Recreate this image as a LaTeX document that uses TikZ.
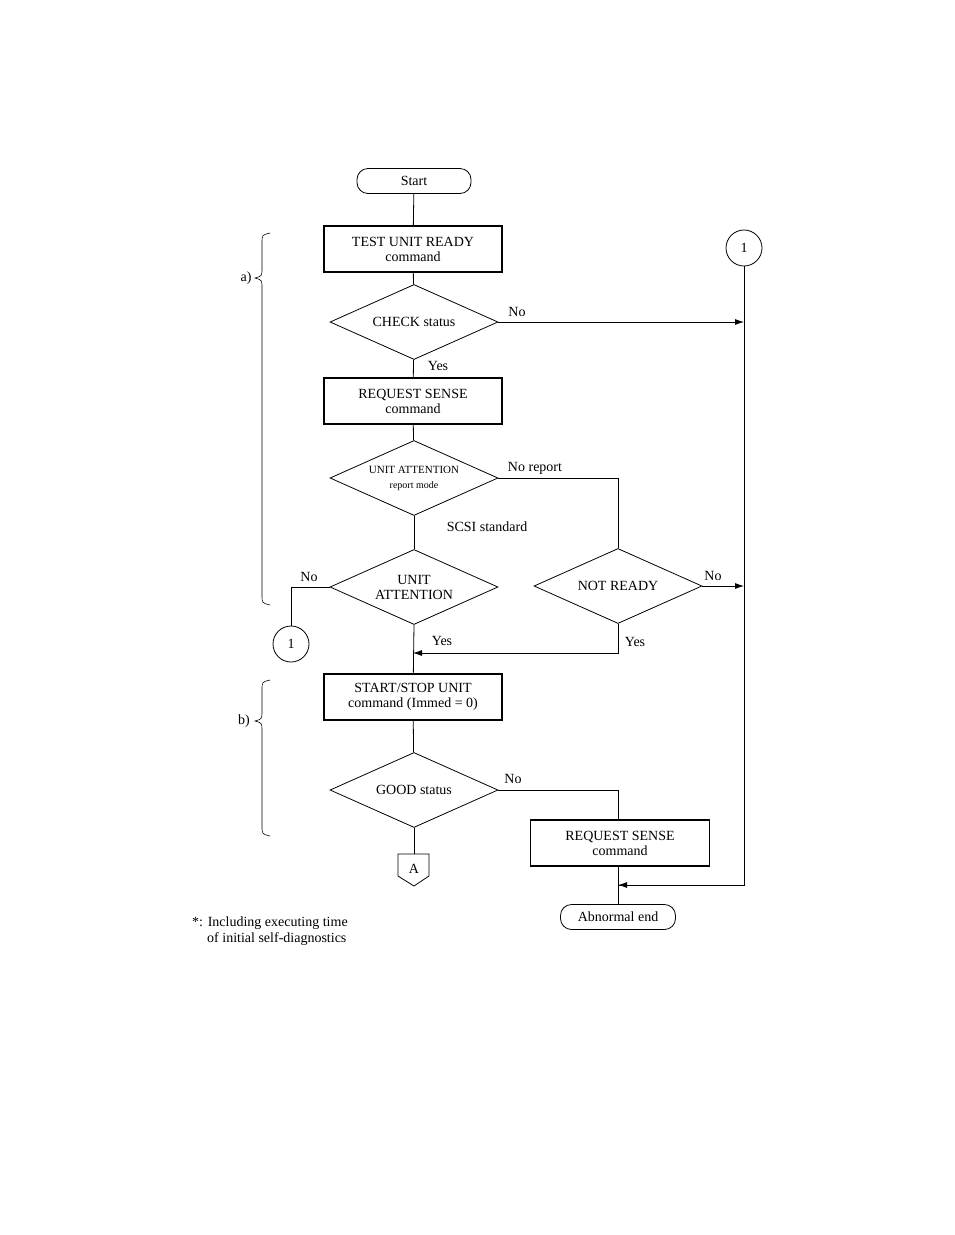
\documentclass[tikz,border=0pt]{standalone}
\usepackage{fontspec}
\setmainfont{Liberation Serif}
\usetikzlibrary{shapes.geometric,arrows.meta}
\begin{document}
\begin{tikzpicture}[x=1pt,y=-1pt,
  every node/.style={font=\fontsize{14}{15}\selectfont,align=center,inner sep=0pt},
  box/.style={draw,line width=1.2pt,minimum width=178pt,minimum height=46pt},
  term/.style={draw,rounded corners=11pt,line width=0.8pt,minimum height=25pt},
  dia/.style={draw,diamond,aspect=2.25,minimum width=168pt,minimum height=75pt,line width=0.8pt},
  conn/.style={draw,circle,minimum size=36pt,line width=0.8pt},
  line/.style={line width=0.8pt},
  arr/.style={line width=0.8pt,-{Latex[length=9pt,width=6pt]}},
  lbl/.style={font=\fontsize{14}{15}\selectfont}]
\useasboundingbox (0,0) rectangle (954,1235);
\node[term,minimum width=114pt] (start) at (414,181) {Start};
\node[box] (tur) at (413,249) {TEST UNIT READY\\command};
\node[conn] (c1) at (744,248) {1};
\node[dia] (chk) at (414,322) {CHECK status};
\node[box] (rs1) at (413,401) {REQUEST SENSE\\command};
\node[dia] (uam) at (414,478) {\fontsize{11}{12}\selectfont UNIT ATTENTION\\\fontsize{10}{11}\selectfont report mode};
\node[dia] (ua) at (414,587) {UNIT\\ATTENTION};
\node[dia] (nr) at (618,586) {NOT READY};
\node[conn] (c2) at (291,644) {1};
\node[box] (ss) at (413,697) {START/STOP UNIT\\command (Immed = 0)};
\node[dia] (good) at (414,790) {GOOD status};
\node[box,minimum width=179pt] (rs2) at (620,843) {REQUEST SENSE\\command};
\node[term,minimum width=115pt] (ab) at (618,917) {Abnormal end};
\node[draw,line width=0.8pt,minimum size=0pt,inner sep=0pt] (A) at (414,866) {};
\draw[line width=0.8pt] (398,854) -- (429,854) -- (429,876) -- (414,886) -- (398,876) -- cycle;
\node at (414,869) {A};
\coordinate (pA) at (414,854);
\coordinate (j1) at (744,322);
\coordinate (j2) at (744,586);
\coordinate (j3) at (413,653);
\coordinate (j4) at (618,885);

\draw[line] (start) -- (tur);
\draw[line] (tur) -- (chk);
\draw[arr] (chk.east) -- (j1);
\draw[line] (chk) -- (rs1);
\draw[line] (rs1) -- (uam);
\draw[line] (uam) -- (ua);
\draw[line] (uam.east) -- (618,478) -- (nr.north);
\draw[line] (ua.west) -| (c2);
\draw[arr] (nr.east) -- (j2);
\draw[arr] (nr.south) |- (j3);
\draw[line] (ua.south) -- (ss);
\draw[line] (ss) -- (good);
\draw[line] (good) -- (pA);
\draw[line] (good.east) -| (618,819);
\draw[line] (c1) -- (744,885) -- (j4);
\draw[arr] (744,885) -- (j4);
\draw[line] (618,866) -- (ab);

\node[lbl] at (517,312) {No};
\node[lbl] at (438,366) {Yes};
\node[lbl] at (535,468) {No report};
\node[lbl] at (487,527) {SCSI standard};
\node[lbl] at (309,577) {No};
\node[lbl] at (713,576) {No};
\node[lbl] at (635,642) {Yes};
\node[lbl] at (442,641) {Yes};
\node[lbl] at (513,779) {No};
\node[lbl] at (246,278) {a)};
\node[lbl] at (244,721) {b)};
\node[lbl,anchor=west] at (192,923) {*: Including executing time};
\node[lbl,anchor=west] at (207,939) {of initial self-diagnostics};

\draw[line width=0.6pt] (270,233) .. controls (262,235) .. (262,243) -- (262,268) .. controls (262,276) .. (255,278) .. controls (262,280) .. (262,288) -- (262,595) .. controls (262,603) .. (270,605);
\draw[line width=0.6pt] (270,680) .. controls (262,682) .. (262,690) -- (262,711) .. controls (262,719) .. (255,721) .. controls (262,723) .. (262,731) -- (262,826) .. controls (262,834) .. (270,836);
\end{tikzpicture}
\end{document}
